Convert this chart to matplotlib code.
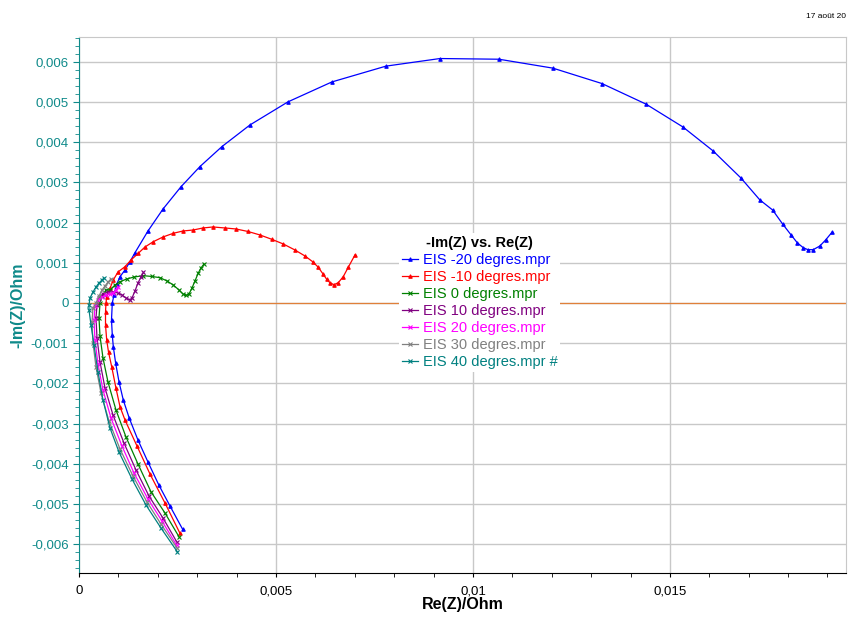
import matplotlib
matplotlib.use("Agg")
import matplotlib.pyplot as plt
from matplotlib.ticker import MultipleLocator, FuncFormatter

plt.rcParams['font.family'] = ['Liberation Sans', 'DejaVu Sans']

# Re(Z) / -Im(Z) en Ohm
re_m20 = [0.002632, 0.002310, 0.002023, 0.001751, 0.001497, 0.001277, 0.001124, 0.001015, 0.000931,
          0.000871, 0.000845, 0.000825, 0.000845, 0.000888, 0.000957, 0.001041, 0.001168, 0.001294,
          0.001421, 0.001751, 0.002132, 0.002589, 0.003071, 0.003629, 0.004340, 0.005305, 0.006421,
          0.007792, 0.009162, 0.010660, 0.012030, 0.013274, 0.014391, 0.015330, 0.016091, 0.016802,
          0.017284, 0.017607, 0.017860, 0.018071, 0.018231, 0.018383, 0.018503, 0.018637, 0.018807,
          0.018952, 0.019120]
im_m20 = [-0.005634, -0.005053, -0.004523, -0.003958, -0.003411, -0.002870, -0.002415, -0.001959, -0.001501,
          -0.001088, -0.000797, -0.000423, 0.0, 0.000199, 0.000466, 0.000655, 0.000822, 0.001028,
          0.001252, 0.001792, 0.002338, 0.002893, 0.003396, 0.003893, 0.004431, 0.005006, 0.005502,
          0.005895, 0.006084, 0.006067, 0.005845, 0.005462, 0.004951, 0.004381, 0.003789, 0.003112,
          0.002564, 0.002315, 0.001967, 0.001700, 0.001501, 0.001377, 0.001327, 0.001327, 0.001419,
          0.001568, 0.001767]

re_m10 = [0.002563, 0.002183, 0.001802, 0.001472, 0.001168, 0.001041, 0.000939, 0.000830, 0.000749,
          0.000703, 0.000673, 0.000673, 0.000685, 0.000703, 0.000787, 0.000871, 0.000990, 0.001168,
          0.001320, 0.001505, 0.001675, 0.001886, 0.002132, 0.002393, 0.002640, 0.002901, 0.003147,
          0.003401, 0.003706, 0.003985, 0.004289, 0.004594, 0.004891, 0.005185, 0.005482, 0.005736,
          0.005931, 0.006074, 0.006200, 0.006287, 0.006370, 0.006472, 0.006581, 0.006708, 0.006835,
          0.007005]
im_m10 = [-0.005733, -0.004979, -0.004257, -0.003560, -0.002913, -0.002582, -0.002123, -0.001586, -0.001220,
          -0.000921, -0.000548, -0.000224, 0.0, 0.000157, 0.000366, 0.000573, 0.000772, 0.000904,
          0.001070, 0.001237, 0.001394, 0.001526, 0.001643, 0.001735, 0.001792, 0.001817, 0.001867,
          0.001892, 0.001867, 0.001842, 0.001780, 0.001693, 0.001586, 0.001469, 0.001319, 0.001170,
          0.001028, 0.000889, 0.000714, 0.000590, 0.000505, 0.000456, 0.000505, 0.000655, 0.000889,
          0.001195]

re_0 = [0.002538, 0.002183, 0.001827, 0.001497, 0.001193, 0.000939, 0.000736, 0.000609, 0.000533,
        0.000508, 0.000533, 0.000584, 0.000685, 0.000787, 0.000914, 0.001041, 0.001211, 0.001396,
        0.001632, 0.001853, 0.002056, 0.002234, 0.002393, 0.002538, 0.002640, 0.002716, 0.002792,
        0.002868, 0.002944, 0.003028, 0.003096, 0.003173]
im_0 = [-0.005818, -0.005228, -0.004698, -0.004008, -0.003336, -0.002664, -0.001967, -0.001369, -0.000822,
        -0.000373, 0.0, 0.000174, 0.000324, 0.000324, 0.000448, 0.000530, 0.000597, 0.000647,
        0.000680, 0.000660, 0.000630, 0.000548, 0.000448, 0.000324, 0.000224, 0.000187, 0.000224,
        0.000373, 0.000548, 0.000747, 0.000871, 0.000971]

re_10 = [0.002480, 0.002132, 0.001777, 0.001447, 0.001142, 0.000863, 0.000660, 0.000533, 0.000457,
         0.000431, 0.000457, 0.000508, 0.000609, 0.000736, 0.000863, 0.000990, 0.001091, 0.001193,
         0.001282, 0.001345, 0.001421, 0.001497, 0.001574, 0.001637]
im_10 = [-0.005942, -0.005352, -0.004805, -0.004157, -0.003485, -0.002788, -0.002116, -0.001469, -0.000871,
         -0.000373, -0.000050, 0.000124, 0.000224, 0.000274, 0.000274, 0.000249, 0.000199, 0.000124,
         0.000075, 0.000124, 0.000299, 0.000498, 0.000647, 0.000759]

re_20 = [0.002475, 0.002107, 0.001751, 0.001396, 0.001091, 0.000812, 0.000609, 0.000482, 0.000406,
         0.000381, 0.000406, 0.000482, 0.000584, 0.000685, 0.000787, 0.000863, 0.000939, 0.000990]
im_20 = [-0.006024, -0.005427, -0.004879, -0.004232, -0.003560, -0.002863, -0.002166, -0.001519, -0.000921,
         -0.000423, -0.000075, 0.000075, 0.000149, 0.000199, 0.000224, 0.000249, 0.000324, 0.000398]

re_30 = [0.002495, 0.002081, 0.001726, 0.001371, 0.001041, 0.000761, 0.000558, 0.000431, 0.000355,
         0.000330, 0.000355, 0.000431, 0.000508, 0.000584, 0.000660, 0.000736, 0.000812]
im_30 = [-0.006107, -0.005502, -0.004954, -0.004307, -0.003635, -0.002938, -0.002240, -0.001593, -0.000996,
         -0.000473, -0.000124, 0.0, 0.000174, 0.000324, 0.000423, 0.000523, 0.000597]

re_40 = [0.002495, 0.002081, 0.001701, 0.001345, 0.001015, 0.000787, 0.000609, 0.000482, 0.000381,
         0.000305, 0.000254, 0.000254, 0.000279, 0.000355, 0.000431, 0.000508, 0.000584, 0.000635]
im_40 = [-0.006191, -0.005601, -0.005029, -0.004381, -0.003709, -0.003112, -0.002415, -0.001718, -0.001046,
         -0.000548, -0.000174, -0.000050, 0.000124, 0.000274, 0.000398, 0.000498, 0.000573, 0.000622]

labels = ["EIS -20 degres.mpr", "EIS -10 degres.mpr", "EIS 0 degres.mpr", "EIS 10 degres.mpr",
          "EIS 20 degres.mpr", "EIS 30 degres.mpr", "EIS 40 degres.mpr #"]
series = [(re_m20, im_m20), (re_m10, im_m10), (re_0, im_0), (re_10, im_10),
          (re_20, im_20), (re_30, im_30), (re_40, im_40)]
colors = ['#0000ff', '#ff0000', '#008000', '#800080', '#ff00ff', '#808080', '#008080']
markers = ['^', '^', 'x', 'x', 'x', 'x', 'x']

teal = '#0f8a8a'
orange = '#e0803a'

fig = plt.figure(figsize=(8.48, 6.17), dpi=100)
ax = fig.add_axes([79 / 848, 1 - 573 / 617, (846 - 79) / 848, (573 - 37) / 617])

ax.axhline(0, color=orange, lw=0.9, zorder=1)
ax.axvline(0, color=orange, lw=1.2, zorder=1)

for (x, y), lab, c, m in zip(series, labels, colors, markers):
    ax.plot(x, y, '-', color=c, lw=0.9, marker=m, ms=2.5, mew=0.8, label=lab, zorder=3)

ax.set_xlim(0, 0.01947)
ax.set_ylim(-0.00672, 0.00662)

ax.xaxis.set_major_locator(MultipleLocator(0.005))
ax.xaxis.set_minor_locator(MultipleLocator(0.001))
ax.yaxis.set_major_locator(MultipleLocator(0.001))
ax.yaxis.set_minor_locator(MultipleLocator(0.0002))

fmt = FuncFormatter(lambda v, p: '{:g}'.format(round(v, 6)).replace('.', ','))
ax.xaxis.set_major_formatter(fmt)
ax.yaxis.set_major_formatter(fmt)

ax.grid(True, which='major', color='#c8c8c8', lw=1, zorder=0)
ax.set_axisbelow(True)

ax.spines['top'].set_color('#c8c8c8')
ax.spines['right'].set_color('#c8c8c8')
ax.spines['bottom'].set_color('black')
ax.spines['left'].set_color(teal)

ax.tick_params(axis='x', which='both', direction='out', length=3, colors='black', labelsize=9.5, pad=6)
ax.tick_params(axis='y', which='major', direction='out', length=4, color=teal, labelcolor=teal, labelsize=9.5)
ax.tick_params(axis='y', which='minor', direction='out', length=3, color=teal)

ax.set_xlabel('Re(Z)/Ohm', fontsize=11.5, fontweight='bold', color='black', labelpad=0)
ax.set_ylabel('-Im(Z)/Ohm', fontsize=11.5, fontweight='bold', color=teal, labelpad=4)

leg = ax.legend(loc='upper left', bbox_to_anchor=(392 / 848, 1 - 226 / 617), bbox_transform=fig.transFigure,
                title='-Im(Z) vs. Re(Z)', fontsize=10.5, title_fontproperties={'weight': 'bold', 'size': 10.5},
                labelcolor='linecolor', frameon=True, facecolor='white', edgecolor='none', framealpha=1,
                handlelength=1.1, handletextpad=0.3, labelspacing=0.2, borderpad=0.2, fancybox=False)
leg.set_zorder(5)

fig.text(806 / 848, 1 - 16 / 617, '17 août 20', fontsize=6, va='center', ha='left')

plt.savefig('out.png', dpi=100)
